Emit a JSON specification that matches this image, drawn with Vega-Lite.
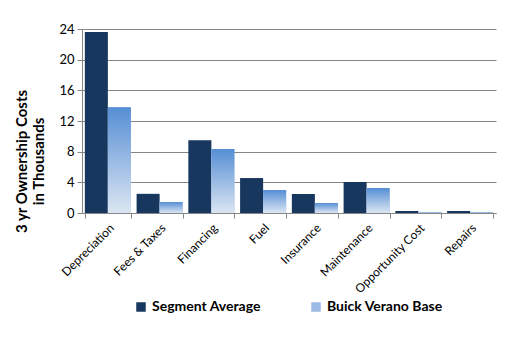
{
  "$schema": "https://vega.github.io/schema/vega-lite/v6.json",
  "width": 414,
  "height": 184,
  "autosize": "none",
  "padding": {"left": 82, "top": 29, "right": 16, "bottom": 140},
  "background": "white",
  "config": {
    "font": "Lato",
    "view": {"stroke": null},
    "axis": {"labelColor": "#000000", "labelFont": "Lato", "titleFont": "Lato", "domainColor": "#868686", "tickColor": "#868686", "gridColor": "#868686"}
  },
  "data": {
    "values": [
      {"category": "Depreciation", "series": "Segment Average", "value": 23.6},
      {"category": "Depreciation", "series": "Buick Verano Base", "value": 13.8},
      {"category": "Fees & Taxes", "series": "Segment Average", "value": 2.5},
      {"category": "Fees & Taxes", "series": "Buick Verano Base", "value": 1.43},
      {"category": "Financing", "series": "Segment Average", "value": 9.5},
      {"category": "Financing", "series": "Buick Verano Base", "value": 8.35},
      {"category": "Fuel", "series": "Segment Average", "value": 4.56},
      {"category": "Fuel", "series": "Buick Verano Base", "value": 3.0},
      {"category": "Insurance", "series": "Segment Average", "value": 2.48},
      {"category": "Insurance", "series": "Buick Verano Base", "value": 1.3},
      {"category": "Maintenance", "series": "Segment Average", "value": 4.04},
      {"category": "Maintenance", "series": "Buick Verano Base", "value": 3.26},
      {"category": "Opportunity Cost", "series": "Segment Average", "value": 0.26},
      {"category": "Opportunity Cost", "series": "Buick Verano Base", "value": 0.13},
      {"category": "Repairs", "series": "Segment Average", "value": 0.26},
      {"category": "Repairs", "series": "Buick Verano Base", "value": 0.13}
    ]
  },
  "encoding": {
    "x": {
      "field": "category", "type": "nominal", "sort": null,
      "scale": {"paddingInner": 0.11, "paddingOuter": 0.055},
      "axis": {"title": null, "labelAngle": -45, "labelFontSize": 12, "tickBand": "extent", "tickSize": 5, "labelPadding": 4, "domainColor": "#868686"}
    },
    "xOffset": {"field": "series", "type": "nominal", "scale": {"domain": ["Segment Average", "Buick Verano Base"]}},
    "y": {
      "field": "value", "type": "quantitative",
      "scale": {"domain": [0, 24], "nice": false},
      "axis": {"values": [0, 4, 8, 12, 16, 20, 24], "title": ["3 yr Ownership Costs", "in Thousands"], "titleFontSize": 15, "titleFontWeight": "bold", "titlePadding": 12, "titleY": 132, "labelFontSize": 13, "tickSize": 5, "labelPadding": 3, "gridWidth": 1.2}
    }
  },
  "layer": [
    {
      "mark": {"type": "bar"},
      "encoding": {
        "color": {
          "field": "series", "type": "nominal",
          "scale": {"domain": ["Segment Average", "Buick Verano Base"], "range": ["#17375E", "#9DB9E6"]},
          "legend": {
            "title": null, "orient": "none", "direction": "horizontal", "legendX": 52, "legendY": 271,
            "symbolType": "square", "symbolSize": 90, "symbolStrokeWidth": 0, "labelFontSize": 14, "labelFontWeight": "bold", "labelColor": "#000000",
            "labelOffset": 4, "columnPadding": 48, "labelLimit": 200
          }
        }
      }
    },
    {
      "transform": [{"filter": "datum.series === 'Buick Verano Base'"}],
      "mark": {"type": "bar", "fill": {"gradient": "linear", "x1": 0, "y1": 0, "x2": 0, "y2": 1, "stops": [{"offset": 0, "color": "#558ED5"}, {"offset": 1, "color": "#DCE6F2"}]}}
    }
  ]
}
